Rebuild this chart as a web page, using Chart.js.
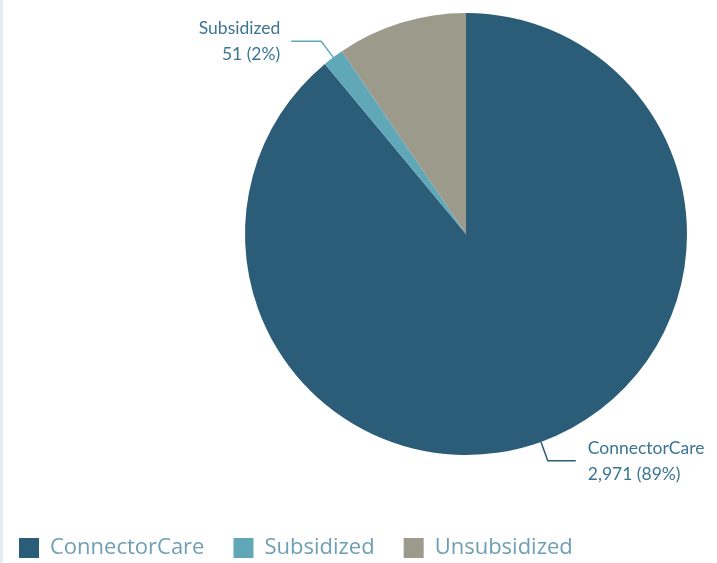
<!DOCTYPE html>
<html>
<head>
<meta charset="utf-8">
<script src="https://cdn.jsdelivr.net/npm/chart.js@4"></script>
<style>
  html, body { margin: 0; padding: 0; background: #ffffff; overflow: hidden; }
  #page { position: relative; width: 717px; height: 563px; overflow: hidden; }
  /* canvas is wider/taller than the page so the pie sits right of centre */
  #wrap { position: absolute; left: -10px; top: -40px; width: 952px; height: 609px; }
  #edge { position: absolute; left: 0; top: 0; width: 3px; height: 563px; background: #e3edf3; }
</style>
</head>
<body>
<div id="page">
  <div id="wrap"><canvas id="myChart"></canvas></div>
  <div id="edge"></div>
</div>
<script>
const categories = ['ConnectorCare', 'Subsidized', 'Unsubsidized'];
const enrollees = [2971, 51, 317];
const labelled = ['ConnectorCare', 'Subsidized'];

const sliceColors = ['#2b5d78', '#60a8b8', '#9b9a8b'];

// outside labels with an elbow leader line
const sliceLabels = {
    id: 'sliceLabels',
    afterDatasetsDraw(chart) {
        const ctx = chart.ctx;
        const meta = chart.getDatasetMeta(0);
        const values = chart.data.datasets[0].data;
        const total = values.reduce((a, b) => a + b, 0);

        meta.data.forEach((arc, i) => {
            const name = chart.data.labels[i];
            if (!labelled.includes(name)) return;

            const p = arc.getProps(['x', 'y', 'startAngle', 'endAngle', 'outerRadius'], true);
            const mid = (p.startAngle + p.endAngle) / 2;
            const cos = Math.cos(mid), sin = Math.sin(mid);
            const x0 = p.x + cos * p.outerRadius;
            const y0 = p.y + sin * p.outerRadius;
            const x1 = p.x + cos * (p.outerRadius + 20);
            const y1 = p.y + sin * (p.outerRadius + 20);
            const right = cos >= 0;
            const x2 = x1 + (right ? 28 : -30);

            ctx.save();
            ctx.strokeStyle = sliceColors[i];
            ctx.lineWidth = 1.5;
            ctx.beginPath();
            ctx.moveTo(x0, y0);
            ctx.lineTo(x1, y1);
            ctx.lineTo(x2, y1);
            ctx.stroke();

            const pct = Math.round(values[i] / total * 100);
            ctx.fillStyle = '#3b7594';
            ctx.font = '17.5px Lato';
            ctx.textAlign = right ? 'left' : 'right';
            ctx.textBaseline = 'alphabetic';
            const tx = x2 + (right ? 12 : -11);
            ctx.fillText(name, tx, y1 - 7);
            ctx.fillText(values[i].toLocaleString('en-US') + ' (' + pct + '%)', tx, y1 + 19);
            ctx.restore();
        });
    }
};

function renderChart() {
    const ctx = document.getElementById('myChart');

    new Chart(ctx, {
        type: 'pie',
        data: {
            labels: categories,
            datasets: [{
                data: enrollees,
                backgroundColor: sliceColors,
                borderWidth: 0,
                radius: 221
            }]
        },
        options: {
            responsive: true,
            maintainAspectRatio: false,
            animation: false,
            layout: { padding: 0 },
            plugins: {
                tooltip: { enabled: false },
                legend: {
                    position: 'bottom',
                    align: 'start',
                    labels: {
                        boxWidth: 20,
                        boxHeight: 20,
                        padding: 29,
                        color: '#6f9fb6',
                        font: { family: '"Open Sans"', size: 22 }
                    }
                }
            }
        },
        plugins: [sliceLabels]
    });
}

renderChart();
</script>
</body>
</html>
